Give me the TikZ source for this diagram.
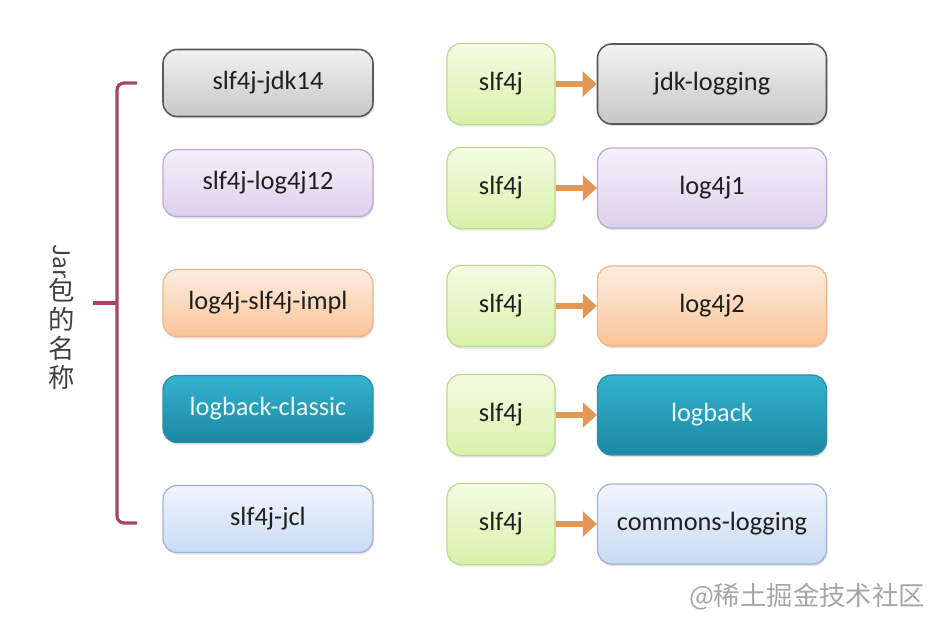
\documentclass[tikz,border=0pt]{standalone}
\usepackage{fontspec}
\setmainfont{Carlito}
\newfontfamily\cjk{Noto Sans CJK SC}
\usetikzlibrary{arrows.meta,shadows}

\definecolor{barred}{HTML}{A84660}
\definecolor{flowor}{HTML}{E39757}
\definecolor{tealtop}{HTML}{35B3CE}
\definecolor{tealbot}{HTML}{1A88A3}
\definecolor{tealline}{HTML}{2B8FA8}
\definecolor{lavtop}{HTML}{F4F0FA}
\definecolor{lavbot}{HTML}{DCD1EC}
\definecolor{lavline}{HTML}{B9ABCF}
\definecolor{skytop}{HTML}{F0F5FD}
\definecolor{skybot}{HTML}{C9DBF3}
\definecolor{skyline}{HTML}{9DB3D6}
\definecolor{peachtop}{HTML}{FDEEE2}
\definecolor{peachbot}{HTML}{FBC497}
\definecolor{peachline}{HTML}{EEB487}
\definecolor{limetop}{HTML}{F4FCE4}
\definecolor{limebot}{HTML}{D8F1A8}
\definecolor{limeline}{HTML}{BFD98E}

\tikzset{
  box/.style={rounded corners=8pt, line width=0.7pt, align=center,
    font=\fontsize{15}{18}\selectfont, text=black!88,
    drop shadow={opacity=0.22, shadow xshift=0.6pt, shadow yshift=-1.2pt}},
  jarbox/.style={box, minimum width=4.2cm, minimum height=1.34cm},
  slfbox/.style={box, minimum width=2.16cm, minimum height=1.62cm,
    top color=limetop, bottom color=limebot, draw=limeline},
  implbox/.style={box, minimum width=4.58cm, minimum height=1.6cm},
  grayfill/.style={top color=black!5, bottom color=black!22, draw=black!65, line width=0.9pt},
  purplefill/.style={top color=lavtop, bottom color=lavbot, draw=lavline},
  orangefill/.style={top color=peachtop, bottom color=peachbot, draw=peachline},
  tealfill/.style={top color=tealtop, bottom color=tealbot, draw=tealline, text=cyan!8},
  bluefill/.style={top color=skytop, bottom color=skybot, draw=skyline},
  flow/.style={line width=3.4pt, flowor, -{Triangle[length=8pt, width=14pt]}},
}

\begin{document}
\begin{tikzpicture}[x=0.02cm, y=-0.02cm]
\useasboundingbox (0,0) rectangle (938,626);

% jar names
\node[jarbox, grayfill] (jdk) at (268,83) {slf4j-jdk14};
\node[jarbox, purplefill] (l12) at (268,183) {slf4j-log4j12};
\node[jarbox, orangefill] (impl) at (268,303) {log4j-slf4j-impl};
\node[jarbox, tealfill] (classic) at (268,409) {logback-classic};
\node[jarbox, bluefill] (jcl) at (268,519) {slf4j-jcl};

% slf4j -> implementation
\node[slfbox] (s1) at (501,84) {slf4j};
\node[slfbox] (s2) at (501,188) {slf4j};
\node[slfbox] (s3) at (501,306) {slf4j};
\node[slfbox] (s4) at (501,415) {slf4j};
\node[slfbox] (s5) at (501,524) {slf4j};

\node[implbox, grayfill] (t1) at (712,84) {jdk-logging};
\node[implbox, purplefill] (t2) at (712,188) {log4j1};
\node[implbox, orangefill] (t3) at (712,306) {log4j2};
\node[implbox, tealfill] (t4) at (712,415) {logback};
\node[implbox, bluefill] (t5) at (712,524) {commons-logging};

\draw[flow] (s1) -- (t1);
\draw[flow] (s2) -- (t2);
\draw[flow] (s3) -- (t3);
\draw[flow] (s4) -- (t4);
\draw[flow] (s5) -- (t5);

% bracket
\coordinate (btop) at (137,83);
\coordinate (bbot) at (137,523);
\coordinate (bmid) at (117,303);
\coordinate (bin) at (93,303);
\draw[barred, line width=1.8pt, rounded corners=4pt] (btop) -- (117,83) -- (117,523) -- (bbot);
\draw[barred, line width=1.8pt] (bin) -- (bmid);
\node[align=center, inner sep=0pt, text=black!75, font=\cjk\fontsize{15}{16.5}\selectfont] (jar) at (62,317)
  {\rotatebox{-90}{\fontsize{13}{13}\selectfont Jar}\\[-1pt]包\\的\\名\\称};

% watermark
\node[anchor=east, text=black!35, font=\cjk\fontsize{15}{18}\selectfont] (mark) at (931,597) {@稀土掘金技术社区};
\end{tikzpicture}
\end{document}
